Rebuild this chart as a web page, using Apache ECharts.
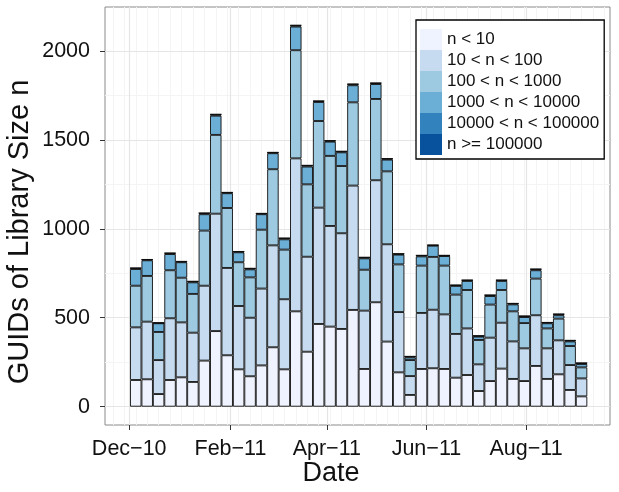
<!DOCTYPE html>
<html><head><meta charset="utf-8">
<script src="https://cdn.jsdelivr.net/npm/echarts@6.0.0/dist/echarts.min.js"></script>
<style>html,body{margin:0;padding:0;background:#fff}#c{width:619px;height:492px}</style>
</head><body><div id="c"></div>
<script>
const weeks = ['2010-12-05','2010-12-12','2010-12-19','2010-12-26','2011-01-02','2011-01-09','2011-01-16','2011-01-23','2011-01-30','2011-02-06',
  '2011-02-13','2011-02-20','2011-02-27','2011-03-06','2011-03-13','2011-03-20','2011-03-27','2011-04-03','2011-04-10','2011-04-17',
  '2011-04-24','2011-05-01','2011-05-08','2011-05-15','2011-05-22','2011-05-29','2011-06-05','2011-06-12','2011-06-19','2011-06-26',
  '2011-07-03','2011-07-10','2011-07-17','2011-07-24','2011-07-31','2011-08-07','2011-08-14','2011-08-21','2011-08-28','2011-09-04'];
const seriesNames = ['n < 10','10 < n < 100','100 < n < 1000','1000 < n < 10000','10000 < n < 100000','n >= 100000'];
const lt10      = [150,154,71,150,165,139,259,425,289,210,171,232,334,210,536,309,465,450,437,544,212,587,366,193,66,212,216,212,163,178,88,144,214,156,144,229,156,182,94,58];
const lt100     = [296,324,191,347,309,277,421,660,491,356,329,432,573,394,860,534,654,566,538,699,328,686,547,339,106,315,329,307,246,262,150,244,258,211,184,285,172,191,140,101];
const lt1000    = [234,257,158,270,251,218,310,443,337,246,227,331,428,279,608,407,487,394,378,468,230,457,410,268,90,266,297,274,221,216,137,186,184,169,142,206,112,122,107,62];
const lt10000   = [94,88,49,91,87,65,92,108,83,56,45,87,90,58,133,100,107,80,77,96,64,84,66,55,15,52,63,54,49,51,19,48,51,39,34,47,29,19,26,19];
const lt100000  = [5,4,2,5,4,5,6,7,4,4,5,4,4,6,6,6,5,5,5,6,5,5,5,4,5,5,3,3,4,4,4,5,4,5,5,6,4,6,5,5];
const ge100000  = [1,1,1,1,1,1,1,1,1,1,1,1,1,1,2,1,1,1,1,1,1,1,1,1,1,1,1,1,1,1,1,1,1,1,1,1,1,1,1,1];
const colors = ['#EFF3FF','#C6DBEF','#9ECAE1','#6BAED6','#3182BD','#08519C'];
const yTicks = [0,500,1000,1500,2000];
const yMinor = [250,750,1250,1750];
const xTicks = ['2010-12-01','2011-02-01','2011-04-01','2011-06-01','2011-08-01'];
const xTickLabels = ['Dec\u221210','Feb\u221211','Apr\u221211','Jun\u221211','Aug\u221211'];
const xMinorExtra = ['2010-11-21','2010-11-28','2011-09-11','2011-09-18'];

const ts = s => Date.parse(s + 'T00:00:00Z');
const xTickTs = xTicks.map(ts);
const allSeries = [lt10, lt100, lt1000, lt10000, lt100000, ge100000];
const FONT = '"Liberation Sans", Arial, sans-serif';

const minorX = xMinorExtra.concat(weeks).map(ts);
const gridLines = [];
minorX.forEach(v => gridLines.push({xAxis: v, lineStyle: {color: '#f4f4f4', width: 1}}));
yMinor.forEach(v => gridLines.push({yAxis: v, lineStyle: {color: '#f4f4f4', width: 1}}));
xTickTs.forEach(v => gridLines.push({xAxis: v, lineStyle: {color: '#e5e5e5', width: 1.2}}));
yTicks.forEach(v => gridLines.push({yAxis: v, lineStyle: {color: '#e5e5e5', width: 1.2}}));

const series = seriesNames.map((name, i) => {
  const s = {
    name, type: 'bar', stack: 'total', barWidth: 11.45,
    dimensions: ['count', 'week'],
    encode: {x: 'week', y: 'count'},
    data: weeks.map((w, j) => [allSeries[i][j], ts(w)]),
    itemStyle: {color: colors[i], borderColor: '#0d0d0d', borderWidth: 0.9},
    emphasis: {disabled: true}, animation: false
  };
  if (i === 0) {
    s.markLine = {
      z: 1, silent: true, symbol: ['none','none'], label: {show: false},
      emphasis: {disabled: true}, animation: false,
      lineStyle: {type: 'solid'}, data: gridLines
    };
  }
  return s;
});

const chart = echarts.init(document.getElementById('c'), null, {renderer: 'canvas'});
chart.setOption({
  animation: false,
  backgroundColor: '#fff',
  grid: {left: 105, right: 9, top: 7, bottom: 67, show: true, backgroundColor: '#fff', borderColor: '#8a8a8a', borderWidth: 1, containLabel: false},
  xAxis: {
    type: 'value',
    min: Date.parse('2010-11-16T04:00:00Z'), max: Date.parse('2011-09-21T10:00:00Z'),
    axisLine: {show: false, onZero: false},
    axisTick: {show: true, customValues: xTickTs, length: 5, lineStyle: {color: '#333', width: 1}},
    axisLabel: {customValues: xTickTs, margin: 13, fontSize: 21.5, fontFamily: FONT, color: '#111',
      formatter: v => { const k = xTickTs.indexOf(v); return k >= 0 ? xTickLabels[k] : ''; }},
    splitLine: {show: false}, minorSplitLine: {show: false}
  },
  yAxis: {
    type: 'value', min: -103, max: 2247,
    axisLine: {show: false},
    axisTick: {show: true, customValues: yTicks, length: 5, lineStyle: {color: '#333', width: 1}},
    axisLabel: {customValues: yTicks, margin: 15, fontSize: 21.5, fontFamily: FONT, color: '#111',
      formatter: v => String(v)},
    splitLine: {show: false}
  },
  legend: {
    orient: 'vertical', left: 416, top: 20,
    data: seriesNames, icon: 'rect', itemWidth: 22, itemHeight: 21, itemGap: 0,
    padding: [9, 5, 4, 4], backgroundColor: '#fff', borderColor: '#000', borderWidth: 1.3,
    itemStyle: {borderWidth: 0},
    textStyle: {fontSize: 17, fontFamily: FONT, color: '#111', lineHeight: 21},
    selectedMode: false
  },
  graphic: [
    {type: 'text', x: 20, y: 232, rotation: Math.PI / 2,
      style: {text: 'GUIDs of Library Size n', fontSize: 29, fontFamily: FONT, fill: '#111', align: 'center', verticalAlign: 'middle'}},
    {type: 'text', x: 331, y: 474, 
      style: {text: 'Date', fontSize: 27, fontFamily: FONT, fill: '#111', align: 'center', verticalAlign: 'middle'}}
  ],
  series
});
</script></body></html>
